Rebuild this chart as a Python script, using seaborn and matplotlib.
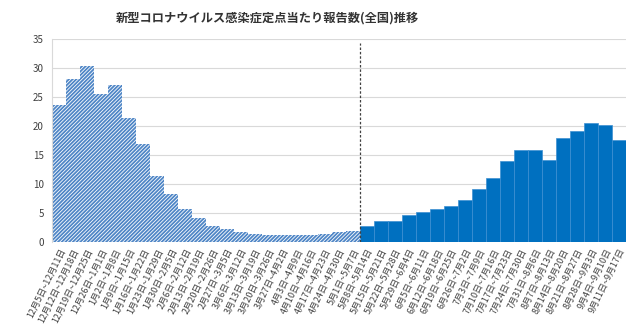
import matplotlib
matplotlib.use("Agg")
import matplotlib.pyplot as plt
import seaborn as sns
import pandas as pd

sns.set_theme(style="white")
plt.rcParams['font.family'] = ['Noto Sans CJK JP', 'DejaVu Sans']
plt.rcParams['hatch.linewidth'] = 1.3

title = "新型コロナウイルス感染症定点当たり報告数(全国)推移"

labels_est = [
    "12月5日~12月11日", "12月12日~12月18日", "12月19日~12月25日", "12月26日~1月1日",
    "1月2日~1月8日", "1月9日~1月15日", "1月16日~1月22日", "1月23日~1月29日",
    "1月30日~2月5日", "2月6日~2月12日", "2月13日~2月19日", "2月20日~2月26日",
    "2月27日~3月5日", "3月6日~3月12日", "3月13日~3月19日", "3月20日~3月26日",
    "3月27日~4月2日", "4月3日~4月9日", "4月10日~4月16日", "4月17日~4月23日",
    "4月24日~4月30日", "5月1日~5月7日",
]
values_est = [23.6, 28.1, 30.4, 25.6, 27.1, 21.4, 16.8, 11.3, 8.3, 5.7, 4.0, 2.6,
              2.1, 1.7, 1.3, 1.15, 1.05, 1.05, 1.15, 1.3, 1.7, 1.75]

labels_obs = [
    "5月8日~5月14日", "5月15日~5月21日", "5月22日~5月28日", "5月29日~6月4日",
    "6月5日~6月11日", "6月12日~6月18日", "6月19日~6月25日", "6月26日~7月2日",
    "7月3日~7月9日", "7月10日~7月16日", "7月17日~7月23日", "7月24日~7月30日",
    "7月31日~8月6日", "8月7日~8月13日", "8月14日~8月20日", "8月21日~8月27日",
    "8月28日~9月3日", "9月4日~9月10日", "9月11日~9月17日",
]
values_obs = [2.63, 3.55, 3.63, 4.55, 5.11, 5.60, 6.13, 7.24, 9.14, 11.04, 13.91,
              15.91, 15.81, 14.16, 17.84, 19.07, 20.50, 20.19, 17.54]

df = pd.DataFrame({
    "label": labels_est + labels_obs,
    "value": values_est + values_obs,
    "phase": ["est"] * len(labels_est) + ["obs"] * len(labels_obs),
})

fig = plt.figure(figsize=(6.4, 3.35), dpi=100)
ax = fig.add_axes([52 / 640, 1 - 241.5 / 335, 574 / 640, (241.5 - 39.3) / 335])

sns.barplot(data=df, x="label", y="value", hue="phase", dodge=False, width=1.0,
            palette={"est": "white", "obs": "#0070C0"}, legend=False, ax=ax)

for cont, lab in zip(ax.containers, ["est", "obs"]):
    for p in cont.patches:
        if lab == "est":
            p.set_facecolor("white")
            p.set_edgecolor("#4F86C6")
            p.set_hatch("/////////")
            p.set_linewidth(0)
        else:
            p.set_facecolor("#0070C0")
            p.set_edgecolor("#3D8FD2")
            p.set_linewidth(0.5)

n = len(df)
ax.set_xlim(-0.5, n - 0.5)
ax.set_ylim(0, 35)
ax.set_yticks(range(0, 36, 5))
ax.yaxis.grid(True, color="#D9D9D9", linewidth=0.8)
ax.set_axisbelow(True)
for s in ["top", "right", "bottom"]:
    ax.spines[s].set_visible(False)
ax.spines["left"].set_color("#D9D9D9")
ax.spines["left"].set_linewidth(0.8)
ax.set_xlabel("")
ax.set_ylabel("")
ax.tick_params(axis="y", length=0, labelsize=7, colors="#404040", pad=6)
ax.tick_params(axis="x", length=0, labelsize=6.5, colors="#404040", pad=4)
plt.setp(ax.get_xticklabels(), rotation=64, ha="right", rotation_mode="anchor")

ax.vlines(len(labels_est) - 0.5, 0, 34.4, colors="#404040", linestyles=(0, (2, 1.5)),
          linewidth=0.9)

fig.text(0.418, 0.946, title, ha="center", va="center", fontsize=8.8, fontweight="bold",
         color="#333333")

fig.savefig("out.png", dpi=100)
